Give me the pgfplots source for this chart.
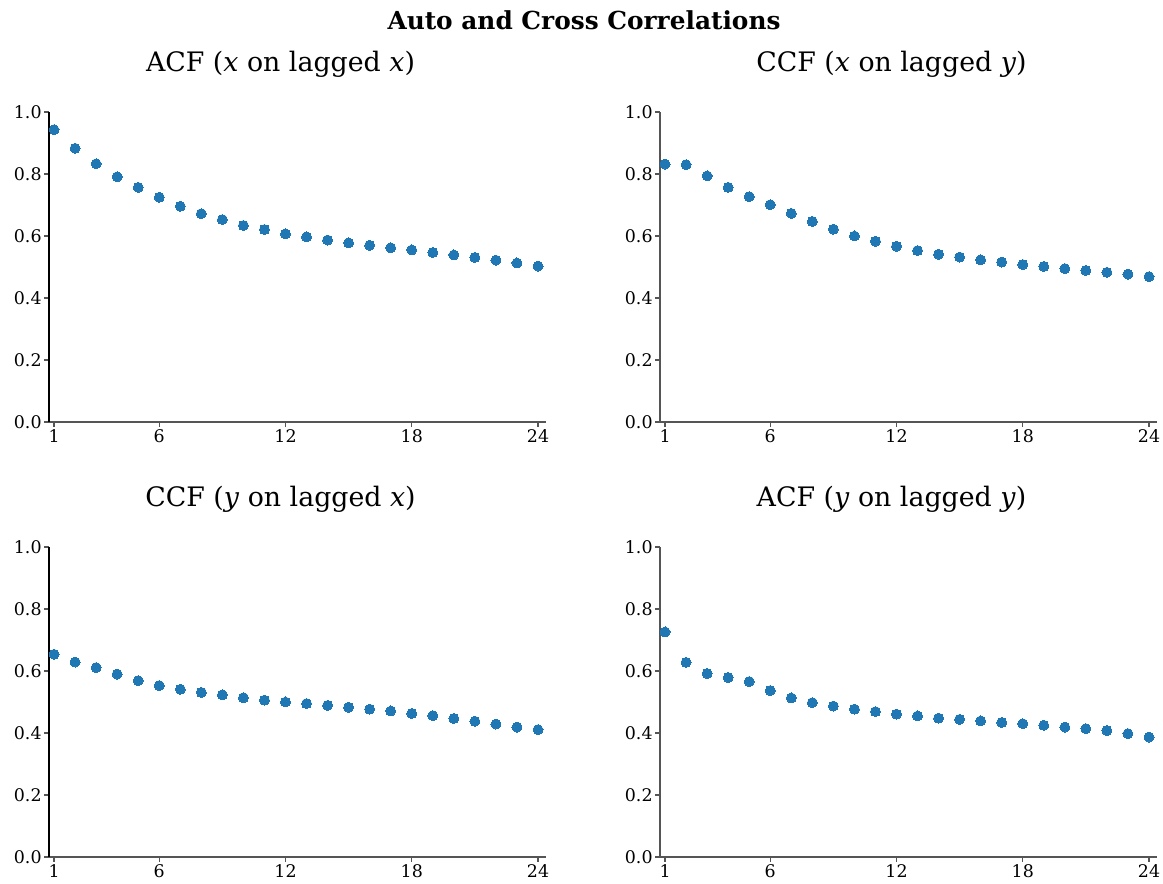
\documentclass[border=0pt]{standalone}
\usepackage{pgfplots}
\pgfplotsset{compat=1.18}
\usepackage{fontspec}
\setmainfont{DejaVu Serif}
\definecolor{mpl}{HTML}{1F77B4}
\definecolor{axg}{HTML}{555555}
\pgfplotsset{
 acf/.style={
  width=248.5pt, height=155pt, scale only axis,
  xmin=0.76, xmax=24.38, ymin=0, ymax=1,
  axis lines*=left,
  xtick={1,6,12,18,24}, ytick={0,0.2,0.4,0.6,0.8,1.0},
  yticklabel style={/pgf/number format/fixed, /pgf/number format/fixed zerofill, /pgf/number format/precision=1},
  /pgf/number format/assume math mode=true,
  tick align=outside, major tick length=2.5pt,
  tick style={axg, line width=0.6pt},
  ticklabel style={font=\fontsize{8.7}{10}\selectfont, inner sep=1pt},
  x axis line style={axg, line width=0.6pt},
  y axis line style={axg, line width=0.6pt},
  title style={font=\fontsize{13.4}{16}\selectfont, at={(0.5,1)}, anchor=center, yshift=18pt, xshift=-8.5pt},
 },
 pts/.style={only marks, color=mpl, mark=*, mark size=2.5pt, mark options={draw=mpl, fill=mpl, line width=0pt}}
}
\begin{document}
\begin{tikzpicture}
\path[use as bounding box] (0,0) rectangle (581.5pt,442pt);
\node[font=\bfseries\fontsize{12.4}{15}\selectfont] at (292pt,432pt) {Auto and Cross Correlations};
\begin{axis}[acf, at={(24.5pt,231pt)}, anchor=south west, y axis line style={black}, title={ACF (\textit{x} on lagged \textit{x})}]
\addplot[pts] coordinates {(1,0.943) (2,0.883) (3,0.833) (4,0.791) (5,0.757) (6,0.725) (7,0.696) (8,0.672) (9,0.653) (10,0.634) (11,0.621) (12,0.607) (13,0.597) (14,0.587) (15,0.578) (16,0.570) (17,0.562) (18,0.555) (19,0.547) (20,0.539) (21,0.531) (22,0.522) (23,0.513) (24,0.503)};
\end{axis}
\begin{axis}[acf, at={(330pt,231pt)}, anchor=south west, title={CCF (\textit{x} on lagged \textit{y})}]
\addplot[pts] coordinates {(1,0.832) (2,0.830) (3,0.794) (4,0.757) (5,0.727) (6,0.701) (7,0.673) (8,0.647) (9,0.622) (10,0.600) (11,0.583) (12,0.567) (13,0.553) (14,0.541) (15,0.532) (16,0.523) (17,0.516) (18,0.508) (19,0.502) (20,0.495) (21,0.489) (22,0.483) (23,0.477) (24,0.469)};
\end{axis}
\begin{axis}[acf, at={(24.5pt,13.5pt)}, anchor=south west, y axis line style={black}, title={CCF (\textit{y} on lagged \textit{x})}]
\addplot[pts] coordinates {(1,0.654) (2,0.629) (3,0.611) (4,0.590) (5,0.569) (6,0.553) (7,0.541) (8,0.531) (9,0.523) (10,0.514) (11,0.506) (12,0.500) (13,0.495) (14,0.489) (15,0.483) (16,0.477) (17,0.471) (18,0.463) (19,0.456) (20,0.447) (21,0.438) (22,0.429) (23,0.419) (24,0.411)};
\end{axis}
\begin{axis}[acf, at={(330pt,13.5pt)}, anchor=south west, title={ACF (\textit{y} on lagged \textit{y})}]
\addplot[pts] coordinates {(1,0.726) (2,0.628) (3,0.592) (4,0.579) (5,0.566) (6,0.537) (7,0.513) (8,0.498) (9,0.487) (10,0.477) (11,0.469) (12,0.461) (13,0.455) (14,0.448) (15,0.444) (16,0.439) (17,0.434) (18,0.430) (19,0.425) (20,0.419) (21,0.414) (22,0.408) (23,0.398) (24,0.387)};
\end{axis}
\end{tikzpicture}
\end{document}
